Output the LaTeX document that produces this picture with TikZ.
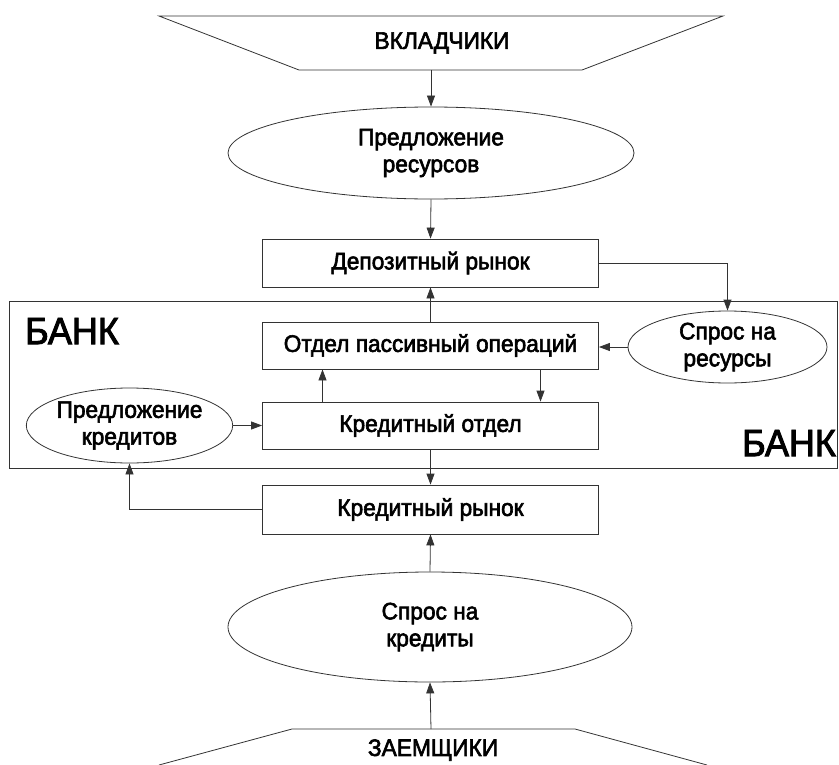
\documentclass[tikz,border=0pt]{standalone}
\usepackage{fontspec}
\setmainfont{Liberation Sans}
\newfontfamily\heavyfont[FakeBold=2.5,FakeStretch=0.95]{Liberation Sans}
\usetikzlibrary{shapes.geometric,arrows.meta,calc}
\begin{document}
\begin{tikzpicture}[x=1bp,y=-1bp,line width=0.8bp,
  box/.style={draw=black!80,minimum width=336bp,minimum height=48bp,inner sep=0pt,font=\heavyfont\fontsize{24}{26}\selectfont},
  oval/.style={draw=black!80,ellipse,inner sep=0pt,align=center,font=\heavyfont\fontsize{24}{27}\selectfont},
  lbl/.style={font=\heavyfont\fontsize{24}{26}\selectfont},
  banklbl/.style={font=\heavyfont\fontsize{38}{40}\selectfont},
  arr/.style={draw=black!80,-{Triangle[length=11bp,width=8bp]}}]
\useasboundingbox (0,0) rectangle (839,765);
\clip (0,0) rectangle (839,765);
% trapezoids
\draw[black!80] (159,16) -- (723,16) -- (582,70) -- (299,70) -- cycle;
\node[lbl] (vklad) at (442,43) {ВКЛАДЧИКИ};
\coordinate (vkb) at (431,70);
\draw[black!80] (159,765) -- (292,729) -- (575,729) -- (707,765);
\node[lbl] (zaem) at (433,750) {ЗАЕМЩИКИ};
\coordinate (zat) at (431,729);
% bank
\draw[black!80] (9,301) rectangle (837,468);
\node[banklbl] (bank1) at (72,331) {БАНК};
\node[banklbl] (bank2) at (789,443) {БАНК};
% nodes
\node[oval,minimum width=406bp,minimum height=92bp] (pres) at (431,153) {Предложение\\ресурсов};
\node[box] (deprynok) at (430.5,263) {Депозитный рынок};
\node[box,minimum height=47bp] (passiv) at (430.5,345.5) {Отдел пассивный операций};
\node[box,minimum height=47bp] (kredotd) at (430.5,425.5) {Кредитный отдел};
\node[oval,minimum width=199bp,minimum height=72bp] (sprosres) at (727.5,347) {Спрос на\\ресурсы};
\node[oval,minimum width=197bp,minimum height=75bp] (predkred) at (129.5,425.5) {Предложение\\кредитов};
\node[box,minimum height=49bp] (kredrynok) at (430.5,509.5) {Кредитный рынок};
\node[oval,minimum width=404bp,minimum height=110bp] (sproskred) at (430,627) {Спрос на\\кредиты};
% connectors
\draw[arr] (vkb) -- (pres.north);
\draw[arr] (pres.south) -- (deprynok.north);
\draw[arr] (passiv.north) -- (deprynok.south);
\draw[arr] (deprynok.east) -| (sprosres.north);
\draw[arr] (sprosres.west) -- (sprosres.west -| passiv.east);
\draw[arr] ($(kredotd.north)+(-108,0)$) -- ($(passiv.south)+(-108,0)$);
\draw[arr] ($(passiv.south)+(110,0)$) -- ($(kredotd.north)+(110,0)$);
\draw[arr] (predkred.east) -- (predkred.east -| kredotd.west);
\draw[arr] (kredotd.south) -- (kredrynok.north);
\draw[arr] (kredrynok.west) -| (predkred.south);
\draw[arr] (sproskred.north) -- (kredrynok.south);
\draw[arr] (zat) -- (sproskred.south);
\end{tikzpicture}
\end{document}
